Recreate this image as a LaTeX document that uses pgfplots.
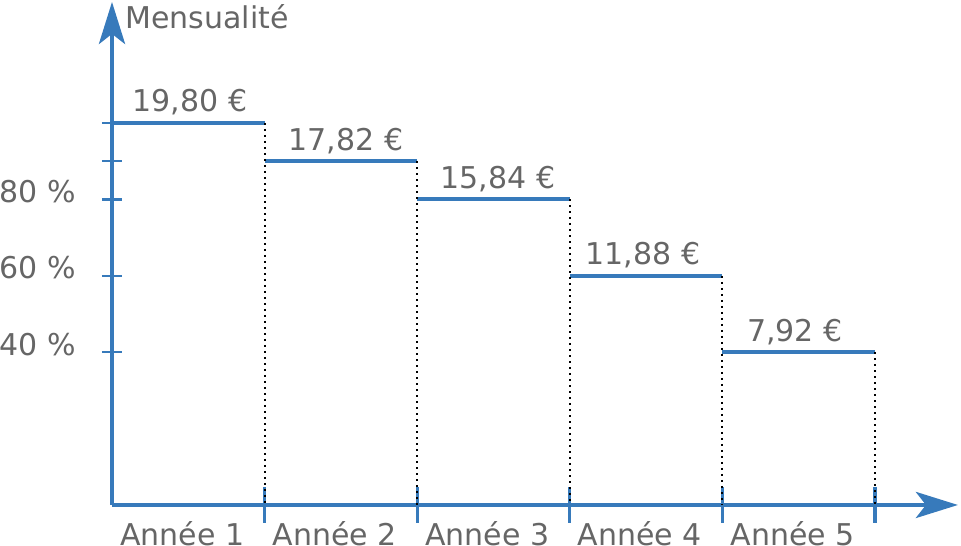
\documentclass[border=0pt]{standalone}
\usepackage{pgfplots}
\pgfplotsset{compat=1.18}
\usepackage{fontspec}
\setmainfont{DejaVu Sans}
\usetikzlibrary{arrows.meta}
\definecolor{bleu}{RGB}{55,122,187}
\definecolor{gris}{RGB}{102,102,102}
\begin{document}
\fontsize{15}{18}\selectfont
\begin{tikzpicture}
\begin{axis}[
  x=76.3pt, y=1.91pt,
  xmin=0, xmax=5.544, ymin=0, ymax=131.7,
  axis lines=left,
  clip=false,
  axis line style={bleu, line width=2.3pt, -{Stealth[length=21pt,width=13pt,inset=5pt]}},
  tick align=center,
  major tick length=10pt,
  % axe y
  ytick={40,60,80,90,100},
  yticklabels={40~\%,60~\%,80~\%,,},
  ytick style={bleu, line width=1.2pt},
  yticklabel style={gris, anchor=east, yshift=4pt, xshift=-8pt},
  % axe x : graduations aux bornes, libellés au milieu
  xtick={1,2,3,4,5},
  xticklabels={},
  xtick style={bleu, line width=1.6pt, /pgfplots/major tick length=18pt},
  extra x ticks={0.46,1.46,2.46,3.46,4.46},
  extra x tick labels={Année 1,Année 2,Année 3,Année 4,Année 5},
  extra x tick style={tick style={draw=none}},
  xticklabel style={gris, anchor=base, yshift=-15.5pt},
  ylabel={Mensualité},
  ylabel style={gris, rotate=-90, anchor=west, inner sep=0pt, at={(axis cs:0.085,127.7)}},
]
% paliers
\addplot[bleu, line width=1.9pt] coordinates {(0,100) (1,100)};
\addplot[bleu, line width=1.9pt] coordinates {(1,90) (2,90)};
\addplot[bleu, line width=1.9pt] coordinates {(2,80) (3,80)};
\addplot[bleu, line width=1.9pt] coordinates {(3,60) (4,60)};
\addplot[bleu, line width=1.9pt] coordinates {(4,40) (5,40)};
% pointillés
\addplot[black, line width=1pt, dash pattern=on 1pt off 2pt] coordinates {(1,100) (1,0)};
\addplot[black, line width=1pt, dash pattern=on 1pt off 2pt] coordinates {(2,90) (2,0)};
\addplot[black, line width=1pt, dash pattern=on 1pt off 2pt] coordinates {(3,80) (3,0)};
\addplot[black, line width=1pt, dash pattern=on 1pt off 2pt] coordinates {(4,60) (4,0)};
\addplot[black, line width=1pt, dash pattern=on 1pt off 2pt] coordinates {(5,40) (5,0)};
% montants
\addplot[draw=none, mark=none, nodes near coords, point meta=explicit symbolic,
  nodes near coords style={gris, anchor=base, inner sep=0pt, yshift=5.5pt}]
  coordinates {(0.511,100)[19,80 €] (1.533,90)[17,82 €] (2.53,80)[15,84 €] (3.48,60)[11,88 €] (4.476,40)[7,92 €]};
\coordinate (bl) at (axis cs:-0.734,-10.73);
\coordinate (tr) at (axis cs:5.564,132.2);
\end{axis}
\pgfresetboundingbox
\useasboundingbox (bl) rectangle (tr);
\end{tikzpicture}
\end{document}
